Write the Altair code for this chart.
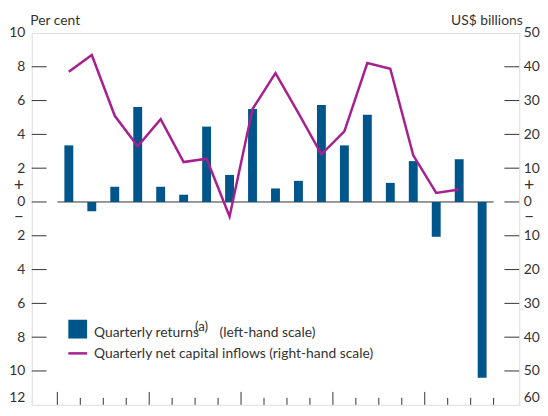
import altair as alt
import pandas as pd

# ---- data ----
returns_pct = [3.35, -0.55, 0.9, 5.62, 0.9, 0.43, 4.46, 1.6, 5.5, 0.8,
               1.25, 5.74, 3.35, 5.16, 1.13, 2.42, -2.06, 2.53, -10.4]
inflows_bn = [38.5, 43.5, 25.5, 16.5, 24.5, 11.8, 12.8, -4.3, 27.5, 38.1,
              26.3, 14.1, 20.9, 41.1, 39.4, 13.8, 2.7, 3.7]
left_ticks = [-10, -8, -6, -4, -2, 0, 2, 4, 6, 8]
right_ticks = [-50, -40, -30, -20, -10, 0, 10, 20, 30, 40]
left_labels = list(range(-12, 11, 2))
right_labels = list(range(-60, 51, 10))
quarter_bounds = list(range(0, 20))
year_bounds = [0, 4, 8, 12, 16]
sign_text = ["+", "\u2013"]
sign_level = [0.93, -0.87]   # on the left (per cent) scale

BLUE = "#00568a"
MAG = "#a6208f"
INK = "#333333"
FONT = "Lato"

bars_df = pd.DataFrame({"pos": [i + 0.5 for i in range(len(returns_pct))],
                        "ret": returns_pct})
line_df = pd.DataFrame({"pos": [i + 0.5 for i in range(len(inflows_bn))],
                        "flow": inflows_bn})
signs_df = pd.DataFrame({"s": sign_text, "v": sign_level})
one = pd.DataFrame({"a": [0]})

xs = alt.Scale(domain=[-0.9, 19.9], nice=False, zero=False)
yl = alt.Scale(domain=[-12, 10], nice=False, zero=False)
yr = alt.Scale(domain=[-60, 50], nice=False, zero=False)


def axis(values, bottom_val, orient, title, pad, tx, talign):
    return alt.Axis(values=values, labelExpr="abs(datum.value)", ticks=False,
                    domain=False, grid=False, labelFontSize=14, labelFont=FONT,
                    labelColor=INK, labelPadding=pad,
                    labelBaseline=alt.condition(f"datum.value == {bottom_val}",
                                                alt.value("bottom"), alt.value("middle")),
                    title=title, titleAngle=0, titleAlign=talign,
                    titleBaseline="middle", titleX=tx, titleY=-13, titleFont=FONT,
                    titleFontSize=14, titleFontWeight="normal", titleColor=INK,
                    orient=orient)


left_axis = axis(left_labels, -12, "left", "Per cent", 7, -2, "left")
right_axis = axis(right_labels, -60, "right", "US$ billions", 4, 3, "right")

bars = alt.Chart(bars_df).mark_bar(size=9, color=BLUE).encode(
    x=alt.X("pos:Q", scale=xs, axis=None),
    y=alt.Y("ret:Q", scale=yl, axis=left_axis),
)
line = alt.Chart(line_df).mark_line(color=MAG, strokeWidth=2.5).encode(
    x=alt.X("pos:Q", scale=xs, axis=None),
    y=alt.Y("flow:Q", scale=yr, axis=right_axis),
)
zero = alt.Chart(pd.DataFrame({"x0": [0], "x1": [19], "y0": [0]})).mark_rule(
    color=INK, strokeWidth=1).encode(
    x=alt.X("x0:Q", scale=xs, axis=None), x2="x1:Q",
    y=alt.Y("y0:Q", scale=yl, axis=None)
)
lt = alt.Chart(pd.DataFrame({"v": left_ticks})).mark_rule(color=INK).encode(
    y=alt.Y("v:Q", scale=yl, axis=None), x=alt.value(0), x2=alt.value(15)
)
rt = alt.Chart(pd.DataFrame({"v": right_ticks})).mark_rule(color=INK, x2Offset=-15).encode(
    y=alt.Y("v:Q", scale=yr, axis=None), x=alt.value("width"), x2=alt.value("width")
)
bt_short = alt.Chart(pd.DataFrame({"t": [q for q in quarter_bounds if q not in year_bounds]})).mark_rule(
    color=INK, y2Offset=-7).encode(
    x=alt.X("t:Q", scale=xs, axis=None), y=alt.value("height"), y2=alt.value("height")
)
bt_tall = alt.Chart(pd.DataFrame({"t": year_bounds})).mark_rule(
    color=INK, y2Offset=-13).encode(
    x=alt.X("t:Q", scale=xs, axis=None), y=alt.value("height"), y2=alt.value("height")
)
signs_l = alt.Chart(signs_df).mark_text(
    font=FONT, fontSize=18, color=INK, align="center", baseline="middle").encode(
    y=alt.Y("v:Q", scale=yl, axis=None), x=alt.value(-13), text="s:N")
signs_r = alt.Chart(signs_df).mark_text(
    font=FONT, fontSize=18, color=INK, align="center", baseline="middle", xOffset=10).encode(
    y=alt.Y("v:Q", scale=yl, axis=None), x=alt.value("width"), text="s:N")


def txt(s, x, y, size=14):
    return alt.Chart(one).mark_text(
        text=s, font=FONT, fontSize=size, color=INK, align="left", baseline="alphabetic"
    ).encode(x=alt.value(x), y=alt.value(y))


# legend (pixel offsets inside the plot area)
LY = 290
sw1 = alt.Chart(one).mark_rect(color=BLUE).encode(
    x=alt.value(37), x2=alt.value(56), y=alt.value(LY), y2=alt.value(LY + 19))
sw2 = alt.Chart(one).mark_rule(color=MAG, strokeWidth=2.5).encode(
    x=alt.value(37), x2=alt.value(56), y=alt.value(LY + 34))
legend = [sw1, sw2,
          txt("Quarterly returns", 63, LY + 17),
          txt("(a)", 165, LY + 11, 13.5),
          txt("(left-hand scale)", 190, LY + 17),
          txt("Quarterly net capital inflows (right-hand scale)", 63, LY + 39)]

chart = alt.layer(zero, bars, lt, bt_short, bt_tall, rt, line, signs_l, signs_r,
                  *legend).resolve_scale(y="independent").properties(
    width=538, height=400,
    autosize=alt.AutoSizeParams(type="fit", contains="padding"),
    padding={"top": 3, "left": 0, "right": 0, "bottom": 0},
).configure_view(stroke=INK, strokeWidth=1).configure(background="white")

chart.save("out.html", embed_options={"renderer": "svg", "actions": False})
